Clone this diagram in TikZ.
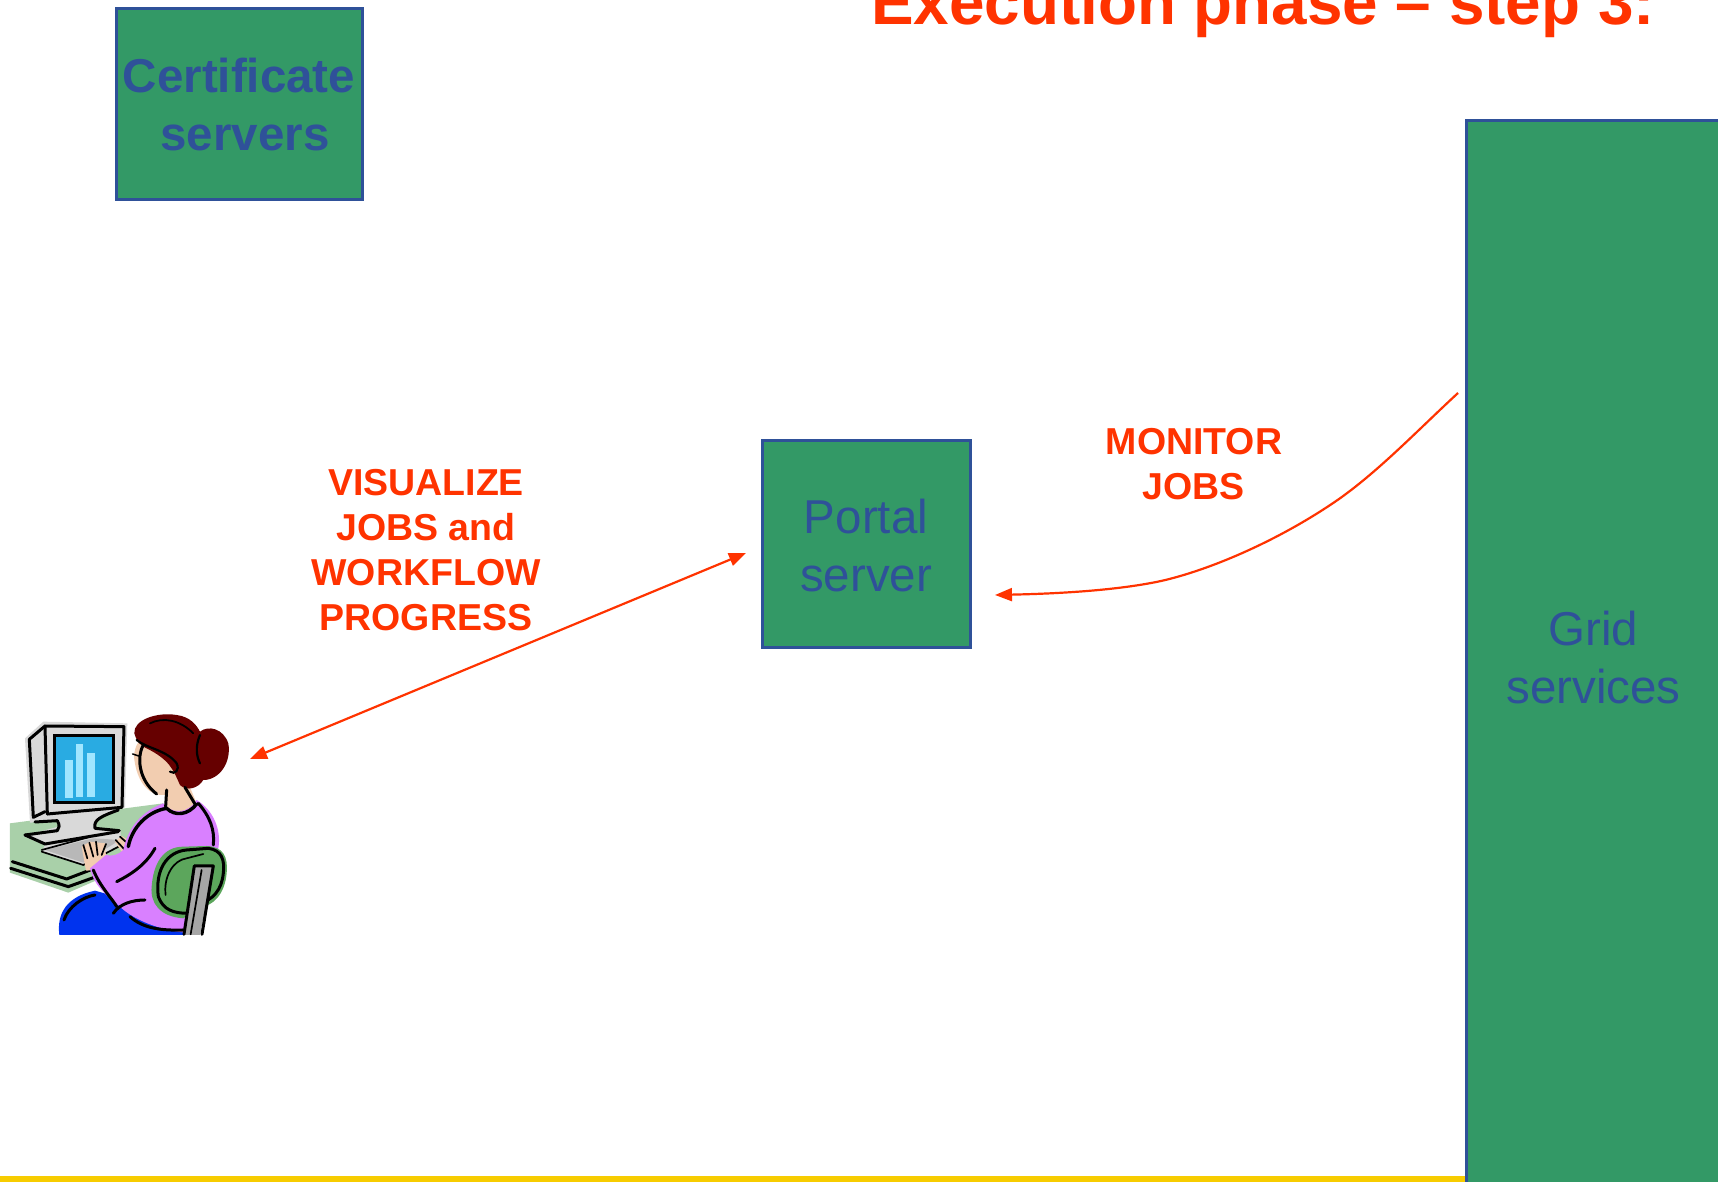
\documentclass[tikz,border=0pt]{standalone}
\usepackage{fontspec}
\setmainfont{Liberation Sans}
\usetikzlibrary{arrows.meta}
\definecolor{boxgreen}{HTML}{339966}
\definecolor{boxblue}{HTML}{2F5199}
\definecolor{redor}{HTML}{FF3300}
\definecolor{ygold}{HTML}{F7CC00}
\definecolor{deskg}{HTML}{A9D0A9}
\definecolor{mong}{HTML}{D9D9D9}
\definecolor{scr}{HTML}{29ABE2}
\definecolor{barc}{HTML}{A0E6FF}
\definecolor{hairc}{HTML}{660000}
\definecolor{skinc}{HTML}{F2CDB0}
\definecolor{sweat}{HTML}{D980FF}
\definecolor{pants}{HTML}{0033EE}
\definecolor{chairc}{HTML}{5CA65C}
\definecolor{postc}{HTML}{A6A6A6}
\tikzset{
  srv/.style={draw=boxblue,fill=boxgreen,line width=3pt,rectangle,inner sep=0pt,anchor=north west},
  srvtext/.style={text=boxblue,font=\fontsize{47.5}{58}\selectfont,align=center,inner sep=0pt},
  redlabel/.style={text=redor,font=\fontsize{37.5}{44.7}\bfseries\selectfont,align=center,inner sep=0pt},
  conn/.style={draw=redor,line width=2.2pt},
  ink/.style={draw=black,line width=3pt,line cap=round,line join=round},
  thin ink/.style={draw=black,line width=1.7pt,line cap=round,line join=round},
}
\begin{document}
\begin{tikzpicture}[x=1pt,y=-1pt]
\useasboundingbox (0,0) rectangle (1718,1182);
\fill[white] (0,0) rectangle (1718,1182);
\begin{scope}
\clip (0,0) rectangle (1718,1182);
% footer rule
\fill[ygold] (0,1176) rectangle (1466,1182);
% boxes
\node[srv,minimum width=246pt,minimum height=191pt] (cert) at (114.5,7.5) {};
\node[srv,minimum width=208pt,minimum height=207pt] (portal) at (760.5,439) {};
\node[srv,minimum width=300pt,minimum height=1100pt] (grid) at (1465,119.5) {};
% box texts
\node[srvtext,anchor=base,font=\fontsize{47.5}{58}\bfseries\selectfont] (certa) at (239,93) {Certificate};
\node[srvtext,anchor=base,font=\fontsize{47.5}{58}\bfseries\selectfont] (certb) at (245,151) {servers};
\node[srvtext,anchor=base] (porta) at (866,533) {Portal};
\node[srvtext,anchor=base] (portb) at (866,591) {server};
\node[srvtext,anchor=base] (grida) at (1593.5,645) {Grid};
\node[srvtext,anchor=base] (gridb) at (1593.5,703) {services};
% title
\node[anchor=base west,inner sep=0pt,text=redor,font=\fontsize{63.8}{70}\bfseries\selectfont] (title) at (871,25) {Execution phase – step 3:};
% labels
\node[redlabel,anchor=base] (v1) at (426,495) {VISUALIZE};
\node[redlabel,anchor=base] (v2) at (426,540) {JOBS and};
\node[redlabel,anchor=base] (v3) at (426,585) {WORKFLOW};
\node[redlabel,anchor=base] (v4) at (426,630) {PROGRESS};
\node[redlabel,anchor=base] (m1) at (1194,454) {MONITOR};
\node[redlabel,anchor=base] (m2) at (1193.5,499) {JOBS};
% connector ends
\coordinate (dblA) at (746,553);
\coordinate (dblB) at (250,759);
\coordinate (monS) at (1458,393);
\coordinate (monE) at (995,595);
\draw[conn,{Triangle[length=17pt,width=13pt]}-{Triangle[length=17pt,width=13pt]}] (dblB) -- (dblA);
\draw[conn,-{Triangle[length=17pt,width=13pt]}] (monS) .. controls (1420,428) and (1380,470) .. (1339,499)
  .. controls (1280,540) and (1210,570) .. (1161,581)
  .. controls (1110,592) and (1040,594) .. (monE);
% person at the computer (coordinates of a 3x view)
\begin{scope}[shift={(0,700)},x=0.3333pt,y=-0.3333pt]
% desk
\fill[deskg] (30,370) -- (490,310) -- (420,440) -- (360,510) -- (205,578) -- (30,518) -- cycle;
\draw[ink] (37,485) -- (200,537) -- (345,482);
\draw[ink] (32,505) -- (205,560) -- (350,508);
% monitor
\fill[mong] (75,115) -- (130,65) -- (382,70) -- (375,322) -- (295,352) -- (288,382) -- (362,392) -- (362,410) -- (385,420) -- (250,495) -- (125,455) -- (135,435) -- (70,408) -- (175,380) -- (172,362) -- (90,368) -- cycle;
\draw[ink] (88,118) -- (135,78) -- (372,80) -- (366,322) -- (142,342);
\draw[ink] (88,118) -- (100,352) -- (135,335);
\draw[ink] (135,78) -- (142,342);
\fill[black] (159,103) rectangle (346,311);
\fill[scr] (168,112) rectangle (337,303);
\fill[barc] (194,180) rectangle (218,295);
\fill[barc] (227,133) rectangle (250,291);
\fill[barc] (260,160) rectangle (284,291);
\draw[ink] (105,366) -- (172,362) .. controls (180,375) and (178,385) .. (172,392);
\draw[ink] (355,330) .. controls (300,350) and (280,360) .. (285,385) -- (358,392);
\draw[ink] (75,405) -- (172,392);
\draw[ink] (75,405) -- (135,432) -- (355,395);
\fill[mong!85!black] (135,450) -- (280,415) -- (360,420) -- (250,488) -- cycle;
\draw[thin ink] (125,455) -- (250,495) -- (375,430);
\draw[thin ink] (125,450) -- (265,412);
% hands
\fill[skinc] (245,440) -- (270,425) -- (315,430) -- (318,470) -- (290,510) -- (258,512) -- cycle;
\fill[skinc] (345,425) -- (365,408) -- (385,420) -- (385,445) -- (365,455) -- cycle;
\draw[thin ink] (250,435) -- (262,475) (268,428) -- (280,470) (288,425) -- (293,465) (318,432) -- (305,465);
\draw[thin ink] (347,420) -- (375,450) (360,410) -- (385,432);
% trousers
\fill[pants] (178,705) .. controls (170,640) and (200,590) .. (285,572) -- (420,610) -- (560,705) -- cycle;
\draw[ink] (192,660) .. controls (205,620) and (250,590) .. (285,585);
% skin
\fill[skinc] (402,170) .. controls (405,130) and (420,120) .. (430,120) -- (540,190) -- (590,310) .. controls (560,345) and (520,340) .. (500,320) -- (495,285) .. controls (450,290) and (410,250) .. (402,170) -- cycle;
% sweater
\fill[sweat] (490,310) .. controls (520,345) and (565,340) .. (590,300) .. controls (640,330) and (665,390) .. (655,445) -- (600,640) -- (555,698) .. controls (480,690) and (400,660) .. (360,620) .. controls (310,580) and (280,550) .. (270,505) -- (318,465) .. controls (335,470) and (355,465) .. (370,450) .. controls (380,400) and (410,340) .. (490,310) -- cycle;
\draw[line width=3.4pt,line cap=round] (385,440) .. controls (395,385) and (440,335) .. (500,325) .. controls (525,350) and (565,345) .. (590,312);
\draw[ink] (280,510) .. controls (300,560) and (340,600) .. (350,620);
\draw[ink] (350,545) .. controls (400,520) and (440,490) .. (465,445);
\draw[ink] (340,640) .. controls (360,610) and (400,600) .. (435,600);
\draw[ink] (390,650) .. controls (430,685) and (480,692) .. (550,690);
\draw[ink] (595,310) .. controls (630,350) and (645,390) .. (640,435);
% hair
\fill[hairc] (403,100) .. controls (400,60) and (470,35) .. (530,45) .. controls (570,50) and (590,75) .. (600,95) .. controls (625,75) and (670,85) .. (685,130) .. controls (695,185) and (660,240) .. (610,240) .. controls (595,265) and (560,275) .. (540,255) .. controls (520,210) and (510,180) .. (440,145) .. controls (425,140) and (410,125) .. (403,100) -- cycle;
\draw[draw=black,line width=1.8pt,line cap=round] (450,70) .. controls (490,50) and (540,60) .. (580,100);
\draw[draw=black,line width=2.2pt,line cap=round] (600,105) .. controls (585,140) and (590,170) .. (600,190);
\draw[draw=black,line width=2.2pt,line cap=round] (410,120) .. controls (440,145) and (500,150) .. (530,190) .. controls (540,210) and (525,225) .. (510,215);
\draw[ink] (430,135) .. controls (410,170) and (415,240) .. (470,282);
\draw[draw=black,line width=1.5pt,line cap=round] (398,162) -- (416,168);
\draw[ink] (500,270) -- (497,320);
\draw[ink] (555,262) -- (585,312);
% chair
\fill[chairc] (455,560) .. controls (460,490) and (490,440) .. (550,440) -- (620,438) .. controls (670,440) and (685,470) .. (680,520) .. controls (675,580) and (640,620) .. (600,620) -- (550,655) .. controls (480,650) and (450,610) .. (455,560) -- cycle;
\draw[line width=3pt,line cap=round,line join=round] (475,590) .. controls (465,510) and (500,455) .. (560,450) -- (625,445) .. controls (665,450) and (675,480) .. (670,520) .. controls (665,570) and (640,600) .. (590,615);
\draw[thin ink] (497,585) .. controls (490,530) and (520,480) .. (560,475) -- (610,462);
\draw[ink] (475,590) .. controls (490,630) and (520,640) .. (565,640);
% chair post
\fill[postc] (583,498) -- (640,498) -- (600,705) -- (550,705) -- cycle;
\draw[ink] (583,498) -- (640,498) -- (606,703);
\draw[ink] (583,498) -- (552,703);
\draw[thin ink] (605,510) -- (572,703);
\end{scope}
\end{scope}
\end{tikzpicture}
\end{document}
